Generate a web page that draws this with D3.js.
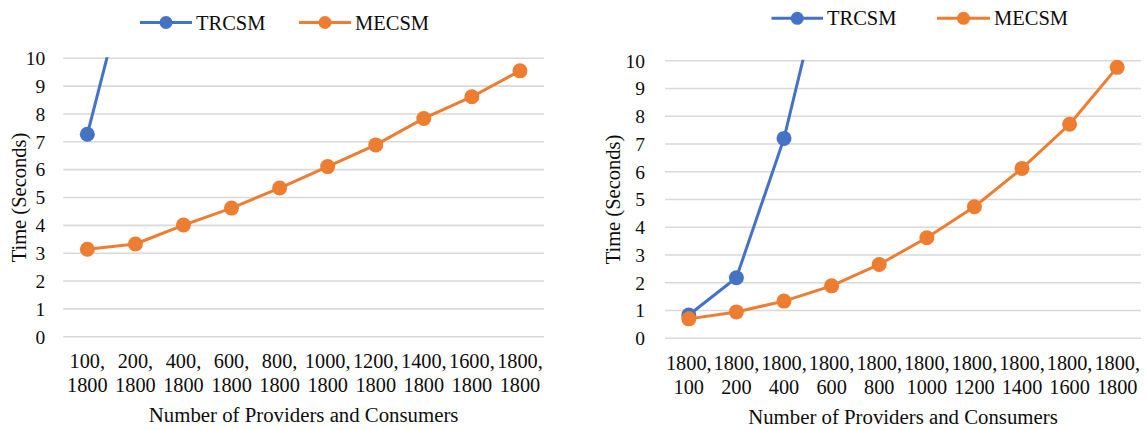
<!DOCTYPE html>
<html>
<head>
<meta charset="utf-8">
<script src="https://cdn.jsdelivr.net/npm/d3@7"></script>
<style>
  html, body { margin: 0; padding: 0; background: #fff; }
  svg { display: block; }
</style>
</head>
<body>
<svg id="chart" width="1146" height="430"></svg>
<script>
// Series names and colours
const seriesNames = ["TRCSM", "MECSM"];
const seriesColors = ["#4472C4", "#ED7D31"];

// Y axis ticks (seconds), axis fixed to 0–10
const yTicks = [0, 1, 2, 3, 4, 5, 6, 7, 8, 9, 10];

// Left panel: varying providers, 1800 consumers
const leftCategories = ["100, 1800", "200, 1800", "400, 1800", "600, 1800", "800, 1800",
                        "1000, 1800", "1200, 1800", "1400, 1800", "1600, 1800", "1800, 1800"];
const leftTRCSM = [7.27, 14.0];
const leftMECSM = [3.14, 3.33, 4.01, 4.62, 5.34, 6.11, 6.89, 7.84, 8.62, 9.55];

// Right panel: 1800 providers, varying consumers
const rightCategories = ["1800, 100", "1800, 200", "1800, 400", "1800, 600", "1800, 800",
                         "1800, 1000", "1800, 1200", "1800, 1400", "1800, 1600", "1800, 1800"];
const rightTRCSM = [0.84, 2.18, 7.2, 14.3];
const rightMECSM = [0.70, 0.95, 1.34, 1.89, 2.66, 3.62, 4.74, 6.12, 7.71, 9.76];

const xTitle = "Number of Providers and Consumers";
const yTitle = "Time (Seconds)";

const FONT = "'Liberation Serif', 'Times New Roman', serif";
const TEXT_COLOR = "#0d0d0d";
const svg = d3.select("#chart")
  .attr("font-family", FONT)
  .style("font-family", FONT);

function drawPanel(id, cfg, categories, trcsm, mecsm) {
  const g = svg.append("g").attr("class", "panel-" + id);

  const x = d3.scaleBand().domain(categories).range([cfg.left, cfg.right]);
  const y = d3.scaleLinear().domain([0, 10]).range([cfg.bottom, cfg.top]);

  // gridlines
  g.append("g").selectAll("line").data(yTicks).join("line")
    .attr("x1", cfg.left).attr("x2", cfg.right)
    .attr("y1", d => y(d)).attr("y2", d => y(d))
    .attr("stroke", "#D9D9D9").attr("stroke-width", 1.6);

  // y tick labels
  g.append("g").selectAll("text").data(yTicks).join("text")
    .attr("x", cfg.left - cfg.yLabelGap).attr("y", d => y(d))
    .attr("dy", "0.35em").attr("text-anchor", "end")
    .attr("fill", TEXT_COLOR)
    .style("font-family", FONT).style("font-size", "19.5px")
    .text(d => d);

  // x tick labels (two lines)
  const xl = g.append("g").selectAll("text").data(categories).join("text")
    .attr("text-anchor", "middle").attr("fill", TEXT_COLOR)
    .style("font-family", FONT).style("font-size", "20.3px");
  xl.each(function(d) {
    const parts = d.split(", ");
    const t = d3.select(this);
    const cx = x(d) + x.bandwidth() / 2;
    t.append("tspan").attr("x", cx).attr("y", cfg.bottom + 31.5).text(parts[0] + ",");
    t.append("tspan").attr("x", cx).attr("y", cfg.bottom + 55.5).text(parts[1]);
  });

  // axis titles
  g.append("text")
    .attr("x", (cfg.left + cfg.right) / 2).attr("y", cfg.bottom + 85.5)
    .attr("text-anchor", "middle").attr("fill", TEXT_COLOR)
    .style("font-family", FONT).style("font-size", "20.8px")
    .text(xTitle);
  g.append("text")
    .attr("transform", `translate(${cfg.yTitleX},${(cfg.top + cfg.bottom) / 2}) rotate(-90)`)
    .attr("dy", "0.35em").attr("text-anchor", "middle").attr("fill", TEXT_COLOR)
    .style("font-family", FONT).style("font-size", "20.5px")
    .text(yTitle);

  // clip series to the plot's value range
  const clipId = "clip-" + id;
  svg.append("defs").append("clipPath").attr("id", clipId)
    .append("rect")
    .attr("x", cfg.left - 20).attr("y", cfg.top - 1)
    .attr("width", cfg.right - cfg.left + 40).attr("height", cfg.bottom - cfg.top + 20);

  const plot = g.append("g").attr("clip-path", `url(#${clipId})`);
  const line = d3.line()
    .x((d, i) => x(categories[i]) + x.bandwidth() / 2)
    .y(d => y(d));

  [trcsm, mecsm].forEach((vals, s) => {
    const sg = plot.append("g");
    sg.append("path").datum(vals)
      .attr("d", line).attr("fill", "none")
      .attr("stroke", seriesColors[s]).attr("stroke-width", 3)
      .attr("stroke-linejoin", "round");
    sg.selectAll("circle").data(vals.filter(v => v <= 10)).join("circle")
      .attr("cx", (d, i) => x(categories[i]) + x.bandwidth() / 2)
      .attr("cy", d => y(d))
      .attr("r", 7.5)
      .attr("fill", seriesColors[s]);
  });

  // legend
  const lg = g.append("g");
  seriesNames.forEach((name, s) => {
    const [x0, x1] = cfg.legend[s];
    lg.append("line")
      .attr("x1", x0).attr("x2", x1).attr("y1", cfg.legendY).attr("y2", cfg.legendY)
      .attr("stroke", seriesColors[s]).attr("stroke-width", 3);
    lg.append("circle")
      .attr("cx", (x0 + x1) / 2).attr("cy", cfg.legendY).attr("r", 6.5)
      .attr("fill", seriesColors[s]);
    lg.append("text")
      .attr("x", x1 + 4).attr("y", cfg.legendY).attr("dy", "0.35em")
      .attr("fill", TEXT_COLOR)
      .style("font-family", FONT).style("font-size", "20.5px")
      .text(name);
  });
}

drawPanel("left", {
  left: 63.3, right: 544, top: 58.3, bottom: 336.7,
  yLabelGap: 18, yTitleX: 19,
  legendY: 22.5, legend: [[140, 192], [299, 351]]
}, leftCategories, leftTRCSM, leftMECSM);

drawPanel("right", {
  left: 665, right: 1141, top: 60.7, bottom: 338.3,
  yLabelGap: 20, yTitleX: 613,
  legendY: 18.3, legend: [[771.5, 823], [937, 990]]
}, rightCategories, rightTRCSM, rightMECSM);
</script>
</body>
</html>
